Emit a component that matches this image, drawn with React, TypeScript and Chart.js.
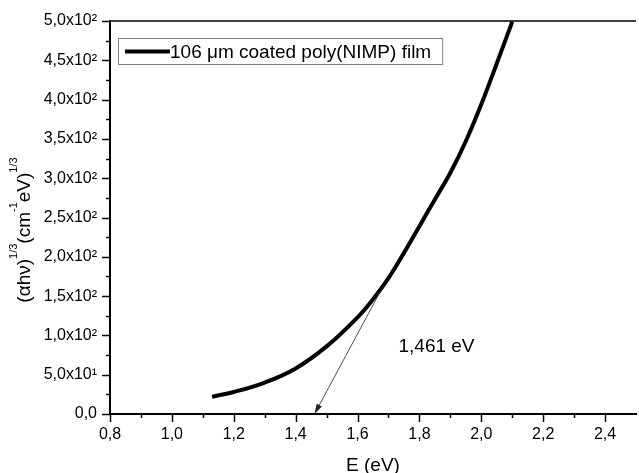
import { useEffect, useRef } from 'react';
import { Chart, registerables } from 'chart.js';

Chart.register(...registerables);

const FONT = '"Liberation Sans", Arial, Helvetica, sans-serif';

// Photon energy E (eV)
const energy = [1.13, 1.2, 1.3, 1.4, 1.5, 1.6, 1.65, 1.7, 1.75, 1.8, 1.85, 1.9, 1.95, 2.0, 2.05, 2.1];
// (alpha h nu)^(1/3)
const absorption = [22, 28, 40, 58, 86, 123, 146, 173, 205, 239, 273, 307, 347, 394, 446, 499];

const seriesLabel = '106 \u03BCm coated poly(NIMP) film';
const gapEnergy = 1.461;
const gapLabel = '1,461 eV';
const arrowStart = { x: 1.686, y: 165 };
const xTitle = 'E (eV)';
const yTitleParts: { t: string; sup: boolean }[] = [
  { t: '(\u03B1h\u03BD)', sup: false },
  { t: '1/3', sup: true },
  { t: '(cm', sup: false },
  { t: '-1', sup: true },
  { t: 'eV)', sup: false },
  { t: '1/3', sup: true },
];

const xMin = 0.8;
const xMax = 2.5;
const yMin = 0;
const yMax = 500;

function yTickLabel(v: number): string {
  const r = Math.round(v);
  if (r === 0) return '0,0';
  if (r < 100) return (r / 10).toFixed(1).replace('.', ',') + 'x10\u00B9';
  return (r / 100).toFixed(1).replace('.', ',') + 'x10\u00B2';
}

export default function App() {
  const ref = useRef<HTMLCanvasElement>(null);

  useEffect(() => {
    document.body.style.margin = '0';
    const canvas = ref.current;
    if (!canvas) return;

    const decor = {
      id: 'decor',
      afterDraw(chart: any) {
        const { ctx, chartArea: a } = chart;
        const x = chart.scales.x;
        const y = chart.scales.y;
        ctx.save();
        ctx.strokeStyle = '#000';
        ctx.fillStyle = '#000';

        // top frame line
        ctx.lineWidth = 1.5;
        ctx.beginPath();
        ctx.moveTo(a.left, a.top);
        ctx.lineTo(a.right, a.top);
        ctx.stroke();

        // tick marks (major / minor)
        ctx.lineWidth = 1.5;
        x.ticks.forEach((t: any) => {
          if (t.value > 2.45) return;
          const k = Math.round(t.value * 10);
          const len = k % 2 === 0 ? 8 : 4;
          const px = Math.round(x.getPixelForValue(t.value)) + 0.5;
          ctx.beginPath();
          ctx.moveTo(px, a.bottom);
          ctx.lineTo(px, a.bottom + len);
          ctx.stroke();
        });
        y.ticks.forEach((t: any) => {
          const k = Math.round(t.value / 25);
          const len = k % 2 === 0 ? 8 : 4;
          const py = Math.round(y.getPixelForValue(t.value)) + 0.5;
          ctx.beginPath();
          ctx.moveTo(a.left, py);
          ctx.lineTo(a.left - len, py);
          ctx.stroke();
        });

        // legend box
        const lx = a.left + 8;
        const ly = a.top + 17;
        const lh = 26;
        ctx.font = `19px ${FONT}`;
        const tw = ctx.measureText(seriesLabel).width;
        const lw = 53 + tw + 10;
        ctx.strokeStyle = '#7f7f7f';
        ctx.lineWidth = 1;
        ctx.strokeRect(lx + 0.5, ly + 0.5, lw, lh);
        ctx.strokeStyle = '#000';
        ctx.lineWidth = 4;
        ctx.beginPath();
        ctx.moveTo(lx + 7, ly + lh / 2 + 0.5);
        ctx.lineTo(lx + 52, ly + lh / 2 + 0.5);
        ctx.stroke();
        ctx.textBaseline = 'middle';
        ctx.textAlign = 'left';
        ctx.fillText(seriesLabel, lx + 52, ly + lh / 2 + 1.5);

        // arrow to the band gap
        const x0 = x.getPixelForValue(arrowStart.x);
        const y0 = y.getPixelForValue(arrowStart.y);
        const x1 = x.getPixelForValue(gapEnergy);
        const y1 = y.getPixelForValue(0);
        const ang = Math.atan2(y1 - y0, x1 - x0);
        ctx.lineWidth = 0.8;
        ctx.strokeStyle = '#222';
        ctx.beginPath();
        ctx.moveTo(x0, y0);
        ctx.lineTo(x1 - 6 * Math.cos(ang), y1 - 6 * Math.sin(ang));
        ctx.stroke();
        ctx.fillStyle = '#222';
        ctx.beginPath();
        ctx.moveTo(x1, y1);
        ctx.lineTo(x1 - 10 * Math.cos(ang) + 3 * Math.sin(ang), y1 - 10 * Math.sin(ang) - 3 * Math.cos(ang));
        ctx.lineTo(x1 - 10 * Math.cos(ang) - 3 * Math.sin(ang), y1 - 10 * Math.sin(ang) + 3 * Math.cos(ang));
        ctx.closePath();
        ctx.fill();

        // gap label
        ctx.fillStyle = '#000';
        ctx.font = `19px ${FONT}`;
        ctx.textBaseline = 'alphabetic';
        ctx.textAlign = 'left';
        ctx.fillText(gapLabel, x.getPixelForValue(1.7) + 10, y.getPixelForValue(79));

        // x title
        ctx.textAlign = 'center';
        ctx.fillText(xTitle, (a.left + a.right) / 2, chart.height - 2);

        // y title with superscripts
        const mainF = `19px ${FONT}`;
        const supF = `11px ${FONT}`;
        let total = 0;
        yTitleParts.forEach((p) => {
          ctx.font = p.sup ? supF : mainF;
          total += ctx.measureText(p.t).width;
        });
        ctx.translate(30, 230);
        ctx.rotate(-Math.PI / 2);
        ctx.textAlign = 'left';
        let cx = -total / 2;
        yTitleParts.forEach((p) => {
          ctx.font = p.sup ? supF : mainF;
          ctx.fillText(p.t, cx, p.sup ? -13 : 0);
          cx += ctx.measureText(p.t).width;
        });
        ctx.restore();
      },
    };

    const chart = new Chart(canvas, {
      type: 'line',
      data: {
        datasets: [
          {
            label: seriesLabel,
            data: energy.map((e, i) => ({ x: e, y: absorption[i] })),
            borderColor: '#000',
            borderWidth: 4,
            pointRadius: 0,
            fill: false,
            tension: 0.4,
          },
        ],
      },
      options: {
        responsive: false,
        animation: false,
        layout: { padding: { top: 21, right: 0, left: 0, bottom: 0 } },
        plugins: { legend: { display: false }, tooltip: { enabled: false } },
        scales: {
          x: {
            type: 'linear',
            min: xMin,
            max: xMax,
            afterFit: (s: any) => { s.height = 59; },
            border: { display: true, color: '#000', width: 2 },
            grid: { display: true, drawOnChartArea: false, drawTicks: true, tickLength: 8, tickColor: 'rgba(0,0,0,0)' },
            ticks: {
              stepSize: 0.1,
              autoSkip: false,
              maxRotation: 0,
              padding: 3,
              color: '#000',
              font: { family: FONT, size: 16 },
              callback: (v: any) => {
                const k = Math.round(Number(v) * 10);
                if (k % 2 !== 0 || k > 24) return '';
                return (k / 10).toFixed(1).replace('.', ',');
              },
            },
          },
          y: {
            type: 'linear',
            min: yMin,
            max: yMax,
            afterFit: (s: any) => { s.width = 110; },
            border: { display: true, color: '#000', width: 2 },
            grid: { display: true, drawOnChartArea: false, drawTicks: true, tickLength: 8, tickColor: 'rgba(0,0,0,0)' },
            ticks: {
              stepSize: 25,
              autoSkip: false,
              padding: 5,
              color: '#000',
              font: { family: FONT, size: 16 },
              callback: (v: any) => {
                const k = Math.round(Number(v) / 25);
                if (k % 2 !== 0) return '';
                return yTickLabel(Number(v));
              },
            },
          },
        },
      },
      plugins: [decor],
    });

    return () => chart.destroy();
  }, []);

  return <canvas ref={ref} width={639} height={473} style={{ display: 'block' }} />;
}
